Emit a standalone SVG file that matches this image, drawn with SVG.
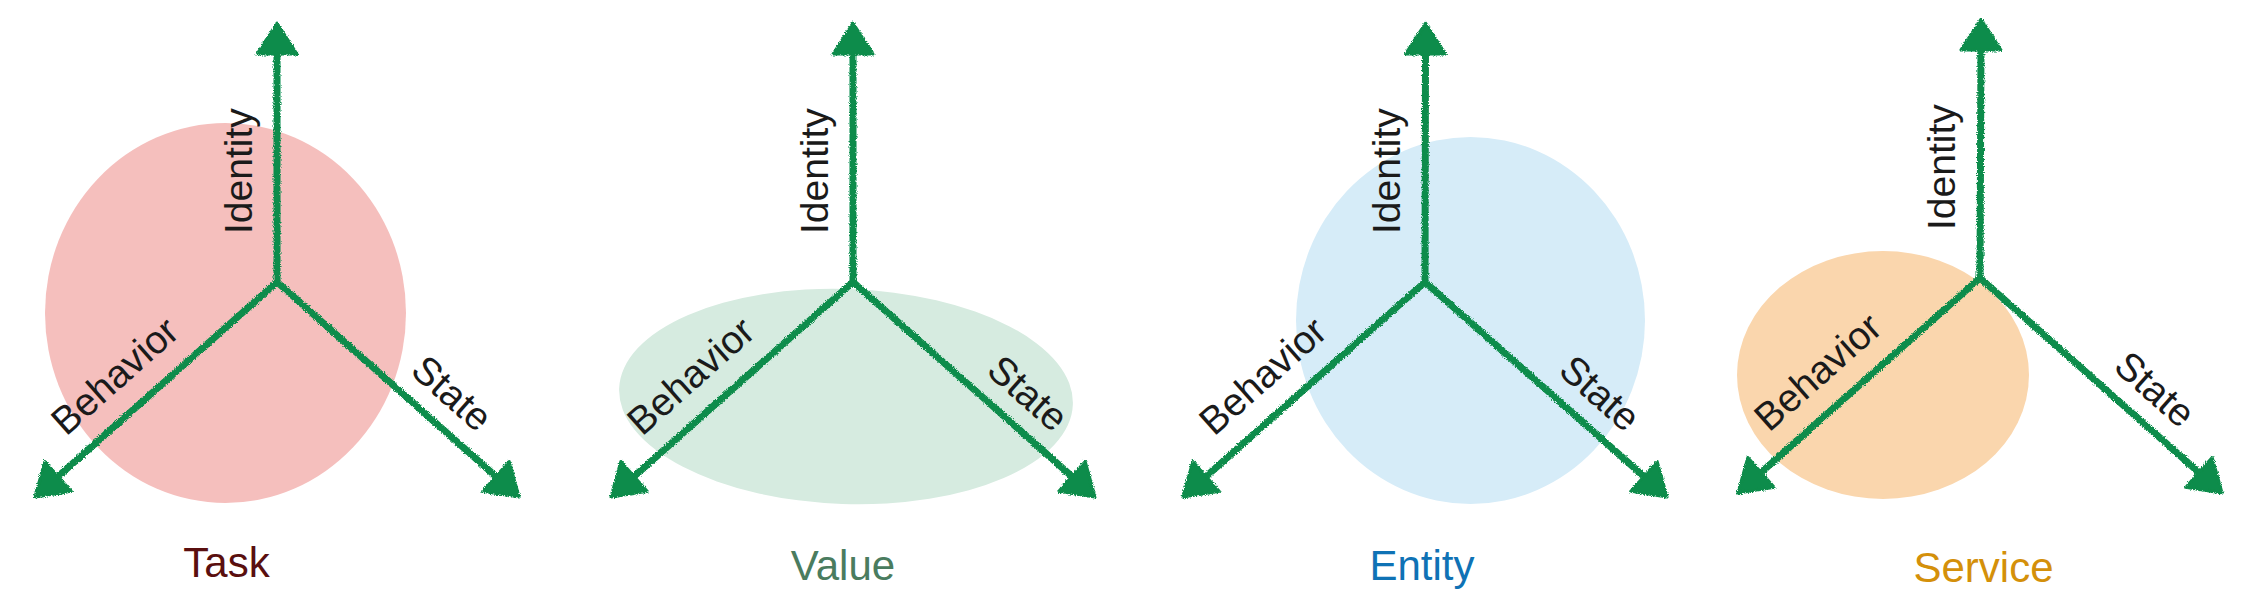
<svg xmlns="http://www.w3.org/2000/svg" width="2258" height="599" viewBox="0 0 2258 599">
<style>
  .axis { fill: none; stroke: #0b8c4b; stroke-width: 7; stroke-linecap: round; marker-end: url(#head); }
  .lbl { font-family: "Liberation Sans", Arial, sans-serif; font-size: 39px; fill: #1a1a1a; }
  .title { font-family: "Liberation Sans", Arial, sans-serif; font-size: 42px; text-anchor: middle; }
</style>
<defs>
  <filter id="rough" x="-5%" y="-5%" width="110%" height="110%">
    <feTurbulence type="fractalNoise" baseFrequency="0.9" numOctaves="2" seed="3" result="n"/>
    <feDisplacementMap in="SourceGraphic" in2="n" scale="4" xChannelSelector="R" yChannelSelector="G"/>
  </filter>
  <marker id="head" markerUnits="userSpaceOnUse" viewBox="-4 -4 44 52" markerWidth="44" markerHeight="52" refX="10" refY="22" orient="auto">
    <path d="M1,2 L32,22 L1,42 Z" fill="#0b8c4b" stroke="#0b8c4b" stroke-width="3" stroke-linejoin="round"/>
  </marker>
</defs>
<rect width="2258" height="599" fill="#ffffff"/>

<g id="task">
  <ellipse cx="225.5" cy="313" rx="180.5" ry="190" fill="#f5bfbd"/>
  <text class="title" x="226.5" y="577" fill="#5a0f0f">Task</text>
</g>
<g id="value">
  <ellipse cx="846" cy="396.5" rx="227" ry="107.5" fill="#d6ebe0" transform="rotate(2 846 396.5)"/>
  <text class="title" x="843" y="580" fill="#4a7c5f">Value</text>
</g>
<g id="entity">
  <ellipse cx="1470.5" cy="320.5" rx="174.5" ry="183.5" fill="#d6ecf8"/>
  <text class="title" x="1422" y="580" fill="#0f72b5">Entity</text>
</g>
<g id="service">
  <ellipse cx="1883" cy="375" rx="146" ry="124" fill="#fad6ad"/>
  <text class="title" x="1983.5" y="582" fill="#d4900a">Service</text>
</g>

<g id="connectors" filter="url(#rough)">
  <path class="axis" d="M277,282 L277,45"/>
  <path class="axis" d="M277,282 L51.4,482.4"/>
  <path class="axis" d="M277,282 L502.6,482.4"/>

  <path class="axis" d="M853,282 L853,45"/>
  <path class="axis" d="M853,282 L627.4,482.4"/>
  <path class="axis" d="M853,282 L1078.6,482.4"/>

  <path class="axis" d="M1425,282 L1425.5,45"/>
  <path class="axis" d="M1425,282 L1199.4,482.4"/>
  <path class="axis" d="M1425,282 L1650.6,482.4"/>

  <path class="axis" d="M1980,278 L1981,41"/>
  <path class="axis" d="M1980,278 L1754.4,478.4"/>
  <path class="axis" d="M1980,278 L2205.6,478.4"/>
</g>

<g id="labels">
  <text class="lbl" transform="translate(252,234) rotate(-90)">Identity</text>
  <text class="lbl" transform="translate(66,437) rotate(-41.6)">Behavior</text>
  <text class="lbl" transform="translate(409,373) rotate(41.6)">State</text>

  <text class="lbl" transform="translate(828,234) rotate(-90)">Identity</text>
  <text class="lbl" transform="translate(642,437) rotate(-41.6)">Behavior</text>
  <text class="lbl" transform="translate(985,373) rotate(41.6)">State</text>

  <text class="lbl" transform="translate(1400,234) rotate(-90)">Identity</text>
  <text class="lbl" transform="translate(1214,437) rotate(-41.6)">Behavior</text>
  <text class="lbl" transform="translate(1557,373) rotate(41.6)">State</text>

  <text class="lbl" transform="translate(1955,230) rotate(-90)">Identity</text>
  <text class="lbl" transform="translate(1769,433) rotate(-41.6)">Behavior</text>
  <text class="lbl" transform="translate(2112,369) rotate(41.6)">State</text>
</g>
</svg>
